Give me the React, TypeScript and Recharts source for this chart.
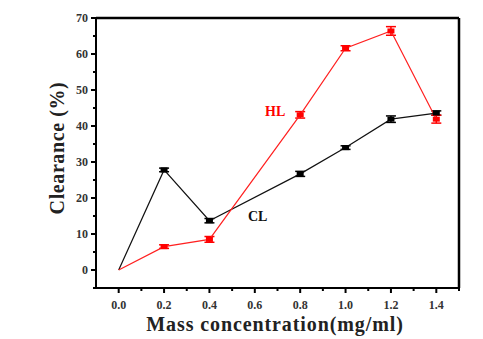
import {
  CartesianGrid,
  ErrorBar,
  Line,
  LineChart,
  XAxis,
  YAxis,
} from "recharts";

const concentration = [0, 0.2, 0.4, 0.8, 1.0, 1.2, 1.4];
const clValues = [0, 27.8, 13.7, 26.7, 34, 41.9, 43.6];
const clErrors = [0, 0.5, 0.6, 0.7, 0.5, 0.9, 0.6];
const hlValues = [0, 6.5, 8.5, 43.1, 61.6, 66.4, 41.9];
const hlErrors = [0, 0.5, 0.8, 0.9, 0.7, 1.2, 1.1];

const xTicks = [0, 0.1, 0.2, 0.3, 0.4, 0.5, 0.6, 0.7, 0.8, 0.9, 1.0, 1.1, 1.2, 1.3, 1.4, 1.5];
const yTicks = [-5, 0, 5, 10, 15, 20, 25, 30, 35, 40, 45, 50, 55, 60, 65, 70];

const data = concentration.map((c, i) => ({
  c,
  cl: clValues[i],
  clErr: clErrors[i],
  hl: hlValues[i],
  hlErr: hlErrors[i],
}));

const FONT = "Liberation Serif, Tinos, Times New Roman, DejaVu Serif, serif";

const PLOT = { left: 96, top: 18, right: 24, bottom: 51 };

function isMajor(v: number, step: number) {
  const r = v / step;
  return Math.abs(r - Math.round(r)) < 1e-6;
}

function XTick(props: any) {
  const { x, y, payload } = props;
  const v = payload.value as number;
  const major = isMajor(v, 0.2) && v <= 1.4 && v >= 0;
  return (
    <g>
      <line x1={x} x2={x} y1={y} y2={y + (major ? 5 : 3)} stroke="#000" strokeWidth={2} />
      {major && (
        <text x={x} y={y + 21} textAnchor="middle" style={{ fontFamily: FONT }} fontWeight="bold" fontSize={12} fill="#333">
          {v.toFixed(1)}
        </text>
      )}
    </g>
  );
}

function YTick(props: any) {
  const { x, y, payload } = props;
  const v = payload.value as number;
  const major = isMajor(v, 10) && v >= 0;
  return (
    <g>
      <line x1={x} x2={x - (major ? 5 : 3)} y1={y} y2={y} stroke="#000" strokeWidth={2} />
      {major && (
        <text x={x - 8} y={y + 4} textAnchor="end" style={{ fontFamily: FONT }} fontWeight="bold" fontSize={12} fill="#333">
          {v}
        </text>
      )}
    </g>
  );
}

function Marker(color: string) {
  return (props: any) => {
    const { cx, cy, index } = props;
    if (index === 0 || cx == null) return <g key={`m${index}`} />;
    return <rect key={`m${index}`} x={cx - 3.5} y={cy - 2.5} width={7} height={5} fill={color} />;
  };
}

// grid used only for the top and right edges of the box
const topEdge = ({ offset }: any) => [offset.top];
const rightEdge = ({ offset }: any) => [offset.left + offset.width];

export default function App() {
  return (
    <div style={{ position: "absolute", left: 0, top: 0, width: 483, height: 339, background: "#fff", fontFamily: FONT }}>
      <LineChart
        width={483}
        height={339}
        data={data}
        margin={{ top: PLOT.top, right: PLOT.right, left: 0, bottom: 0 }}
      >
        <CartesianGrid
          horizontalCoordinatesGenerator={topEdge}
          verticalCoordinatesGenerator={rightEdge}
          stroke="#000"
          strokeWidth={2.5}
          syncWithTicks={false}
        />
        <XAxis
          dataKey="c"
          type="number"
          domain={[-0.1, 1.5]}
          ticks={xTicks}
          interval={0}
          tickSize={0}
          tickMargin={0}
          tickLine={false}
          tick={<XTick />}
          axisLine={{ stroke: "#000", strokeWidth: 2 }}
          height={PLOT.bottom}
          allowDataOverflow
        />
        <YAxis
          type="number"
          domain={[-5, 70]}
          ticks={yTicks}
          interval={0}
          tickSize={0}
          tickMargin={0}
          tickLine={false}
          tick={<YTick />}
          axisLine={{ stroke: "#000", strokeWidth: 2 }}
          width={PLOT.left}
          allowDataOverflow
        />
        <Line
          dataKey="cl"
          stroke="#111"
          strokeWidth={1.2}
          dot={Marker("#000")}
          activeDot={false}
          isAnimationActive={false}
        >
          <ErrorBar dataKey="clErr" width={5} stroke="#000" strokeWidth={1.5} />
        </Line>
        <Line
          dataKey="hl"
          stroke="#ff2020"
          strokeWidth={1.2}
          dot={Marker("#ff0000")}
          activeDot={false}
          isAnimationActive={false}
        >
          <ErrorBar dataKey="hlErr" width={5} stroke="#ff0000" strokeWidth={1.5} />
        </Line>
      </LineChart>
      <div
        style={{
          position: "absolute",
          left: 57,
          top: 148,
          transform: "translate(-50%, -50%) rotate(-90deg)",
          fontWeight: "bold",
          fontSize: 20,
          color: "#222",
          whiteSpace: "nowrap",
          letterSpacing: 0.6,
        }}
      >
        Clearance (%)
      </div>
      <div
        style={{
          position: "absolute",
          left: 275,
          top: 324,
          transform: "translate(-50%, -50%)",
          fontWeight: "bold",
          fontSize: 20,
          color: "#222",
          whiteSpace: "nowrap",
          letterSpacing: 0.9,
        }}
      >
        Mass concentration(mg/ml)
      </div>
      <div style={{ position: "absolute", left: 265, top: 104, fontWeight: "bold", fontSize: 14, color: "#ff0000" }}>
        HL
      </div>
      <div style={{ position: "absolute", left: 248, top: 209, fontWeight: "bold", fontSize: 14, color: "#111" }}>
        CL
      </div>
    </div>
  );
}
